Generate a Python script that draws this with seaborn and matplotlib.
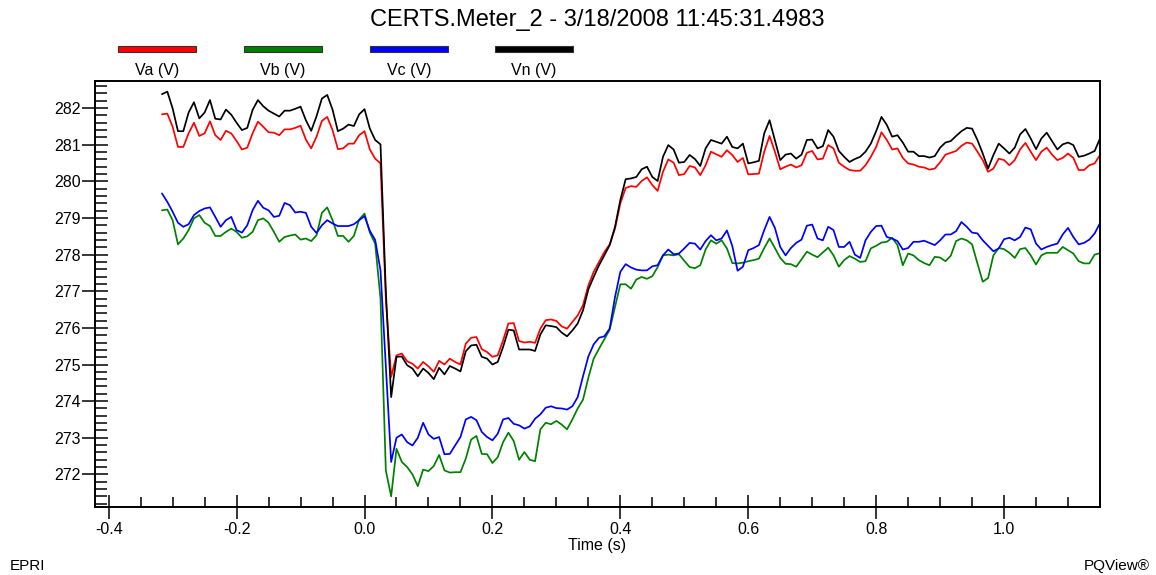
import numpy as np
import pandas as pd
import matplotlib
matplotlib.use("Agg")
import matplotlib.pyplot as plt
from matplotlib.patches import Rectangle
from matplotlib.ticker import MultipleLocator, FormatStrFormatter
import seaborn as sns

# ---------------- data ----------------
series_names = ["Va (V)", "Vb (V)", "Vc (V)", "Vn (V)"]
series_colors = ["#ff0000", "#008000", "#0000ff", "#000000"]

# half-cycle RMS samples, 1/120 s apart, sample 38 at t = 0
sample_start = -38
sample_rate = 120.0

va = [281.83, 281.85, 281.49, 280.94, 280.94, 281.31, 281.60, 281.24, 281.31, 281.64,
      281.26, 281.13, 281.38, 281.31, 281.10, 280.87, 280.92, 281.31, 281.63, 281.49,
      281.34, 281.33, 281.26, 281.42, 281.42, 281.46, 281.52, 281.14, 280.90, 281.22,
      281.65, 281.76, 281.40, 280.88, 280.90, 281.03, 281.03, 281.26, 281.37, 280.87,
      280.62, 280.49, 276.80, 274.66,
      275.25, 275.30, 275.09, 275.02, 274.89, 275.07, 274.95, 274.80, 275.10, 275.00,
      275.16, 275.07, 275.00, 275.57, 275.73, 275.75, 275.42, 275.34, 275.21, 275.25,
      275.66, 276.12, 276.13, 275.64, 275.60, 275.62, 275.59, 275.98, 276.21, 276.23,
      276.19, 276.04, 275.98, 276.16, 276.34,
      276.62, 277.16, 277.53, 277.80, 278.07, 278.28, 278.71, 279.40, 279.82, 279.87,
      279.85, 280.01, 280.11, 279.90, 279.74, 280.26, 280.60, 280.51, 280.17, 280.20,
      280.42, 280.38, 280.17, 280.44, 280.81, 280.74,
      280.67, 280.85, 280.72, 280.53, 280.64, 280.19, 280.20, 280.21, 280.81, 281.24,
      280.81, 280.33, 280.40, 280.46, 280.38, 280.44, 280.78, 280.83, 280.60, 280.62,
      280.99, 280.90, 280.51, 280.40, 280.31, 280.29, 280.29, 280.44, 280.67, 280.94,
      281.34, 281.13, 280.87, 280.90, 280.64,
      280.49, 280.46, 280.40, 280.38, 280.32, 280.35, 280.52, 280.73, 280.78, 280.83,
      280.97, 281.06, 281.03, 280.81, 280.58, 280.26, 280.35, 280.62, 280.58, 280.44,
      280.58, 280.87, 281.05, 280.81, 280.58, 280.81, 280.92, 280.73, 280.58, 280.64,
      280.76, 280.64, 280.31, 280.31, 280.44, 280.49, 280.72]

vb = [279.21, 279.23, 278.94, 278.28, 278.44, 278.67, 278.99, 279.08, 278.87, 278.78,
      278.51, 278.51, 278.62, 278.71, 278.62, 278.46, 278.50, 278.62, 278.94, 278.99,
      278.87, 278.62, 278.35, 278.48, 278.52, 278.55, 278.41, 278.44, 278.37, 278.53,
      279.14, 279.29, 278.94, 278.51, 278.51, 278.35, 278.51, 278.96, 279.12, 278.60,
      278.30, 276.80, 272.11, 271.40,
      272.70, 272.34, 272.20, 272.00, 271.68, 272.13, 272.09, 272.23, 272.53, 272.11,
      272.05, 272.06, 272.06, 272.43, 272.95, 273.05, 272.56, 272.55, 272.31, 272.47,
      272.88, 273.14, 272.91, 272.40, 272.61, 272.40, 272.36, 273.23, 273.41, 273.37,
      273.46, 273.36, 273.23, 273.50, 273.80,
      274.04, 274.64, 275.16, 275.43, 275.69, 275.95, 276.57, 277.19, 277.19, 277.07,
      277.32, 277.39, 277.34, 277.41, 277.66, 277.98, 278.00, 277.98, 278.01, 277.83,
      277.66, 277.63, 277.71, 278.14, 278.39, 278.30,
      278.39, 278.17, 277.77, 277.76, 277.78, 277.82, 277.85, 277.89, 278.18, 278.44,
      278.18, 277.91, 277.75, 277.74, 277.67, 277.87, 278.08, 278.00, 277.93, 278.06,
      278.19, 277.98, 277.67, 277.85, 277.96, 277.89, 277.80, 277.82, 278.17, 278.24,
      278.33, 278.35, 278.46, 278.26, 277.71,
      278.03, 277.98, 277.85, 277.77, 277.71, 277.94, 277.92, 277.82, 277.97, 278.37,
      278.44, 278.39, 278.28, 277.76, 277.26, 277.36, 277.98, 278.18, 278.15, 278.05,
      277.91, 278.15, 278.18, 277.98, 277.73, 277.98, 278.05, 278.05, 278.05, 278.21,
      278.12, 278.03, 277.82, 277.76, 277.76, 278.00, 278.04]

vc = [279.67, 279.44, 279.17, 278.87, 278.76, 278.83, 279.08, 279.19, 279.26, 279.29,
      279.03, 278.76, 278.94, 279.03, 278.67, 278.60, 278.80, 279.21, 279.47, 279.28,
      279.21, 279.03, 279.06, 279.41, 279.35, 279.15, 279.17, 279.14, 278.76, 278.59,
      278.80, 278.94, 278.85, 278.78, 278.78, 278.78, 278.83, 278.94, 279.05, 278.65,
      278.40, 277.57, 274.96, 272.34,
      273.00, 273.09, 272.88, 272.79, 273.00, 273.41, 273.09, 272.97, 273.02, 272.55,
      272.56, 272.79, 273.02, 273.50, 273.57, 273.48, 273.16, 273.02, 272.93, 273.11,
      273.50, 273.54, 273.38, 273.34, 273.25, 273.31, 273.52, 273.64, 273.82, 273.86,
      273.81, 273.80, 273.77, 273.86, 274.11,
      274.68, 275.22, 275.55, 275.73, 275.77, 275.98, 276.84, 277.53, 277.74, 277.65,
      277.59, 277.57, 277.57, 277.68, 277.71, 277.98, 278.14, 278.01, 278.03, 278.17,
      278.32, 278.30, 278.14, 278.37, 278.53, 278.39,
      278.44, 278.66, 278.24, 277.56, 277.67, 278.12, 278.18, 278.26, 278.67, 279.03,
      278.73, 278.21, 277.98, 278.18, 278.32, 278.41, 278.79, 278.82, 278.44, 278.39,
      278.76, 278.67, 278.21, 278.21, 278.35, 278.00, 277.91, 278.39, 278.62, 278.78,
      278.79, 278.48, 278.44, 278.37, 278.14,
      278.18, 278.35, 278.35, 278.38, 278.32, 278.26, 278.39, 278.55, 278.55, 278.64,
      278.89, 278.76, 278.60, 278.58, 278.39, 278.24, 278.09, 278.17, 278.42, 278.46,
      278.39, 278.48, 278.74, 278.69, 278.30, 278.14, 278.21, 278.26, 278.30, 278.55,
      278.73, 278.48, 278.28, 278.32, 278.41, 278.58, 278.86]

vn = [282.38, 282.45, 281.99, 281.37, 281.37, 281.88, 282.16, 281.72, 281.88, 282.22,
      281.71, 281.69, 281.96, 281.82, 281.60, 281.40, 281.46, 281.95, 282.22, 282.05,
      281.93, 281.85, 281.77, 281.93, 281.93, 281.98, 282.04, 281.67, 281.38, 281.78,
      282.26, 282.36, 281.96, 281.37, 281.44, 281.55, 281.51, 281.83, 281.97, 281.44,
      281.13, 281.01, 277.00, 274.11,
      275.21, 275.22, 274.98, 274.89, 274.68, 274.89, 274.77, 274.60, 274.91, 274.73,
      274.96, 274.89, 274.81, 275.36, 275.52, 275.54, 275.21, 275.16, 275.00, 275.07,
      275.48, 275.95, 275.93, 275.41, 275.41, 275.41, 275.37, 275.82, 276.07, 276.05,
      276.02, 275.87, 275.77, 275.93, 276.12,
      276.48, 277.05, 277.39, 277.71, 277.98, 278.26, 278.76, 279.49, 280.06, 280.08,
      280.12, 280.33, 280.40, 280.12, 280.01, 280.67, 280.99, 280.87, 280.51, 280.53,
      280.72, 280.61, 280.42, 280.90, 281.13, 281.08,
      281.03, 281.22, 280.94, 280.90, 281.03, 280.49, 280.52, 280.56, 281.31, 281.67,
      281.13, 280.58, 280.73, 280.76, 280.62, 280.73, 281.13, 281.14, 280.90, 280.96,
      281.40, 281.22, 280.83, 280.67, 280.53, 280.61, 280.67, 280.81, 281.03, 281.37,
      281.76, 281.54, 281.22, 281.26, 281.06,
      280.81, 280.81, 280.69, 280.69, 280.65, 280.69, 280.92, 281.06, 281.10, 281.24,
      281.37, 281.46, 281.44, 281.13, 280.76, 280.35, 280.72, 281.03, 280.90, 280.76,
      280.92, 281.28, 281.43, 281.17, 280.88, 281.17, 281.33, 281.10, 280.87, 281.01,
      281.06, 280.99, 280.67, 280.70, 280.76, 280.83, 281.17]

title_text = "CERTS.Meter_2 - 3/18/2008 11:45:31.4983"
x_label = "Time (s)"
left_footer = "EPRI"
right_footer = "PQView®"

# ---------------- build table ----------------
n = len(va)
t = (np.arange(n) + sample_start) / sample_rate
frames = []
for name, vals in zip(series_names, [va, vb, vc, vn]):
    frames.append(pd.DataFrame({"Time": t, "Value": vals, "Series": name}))
df = pd.concat(frames, ignore_index=True)

# ---------------- style ----------------
sns.set_theme(style="white")
plt.rcParams["font.family"] = ["Liberation Sans", "DejaVu Sans"]
plt.rcParams["axes.edgecolor"] = "black"

W, H = 1156, 575
fig = plt.figure(figsize=(W / 100, H / 100), dpi=100)
ax = fig.add_axes([95 / W, 1 - 507 / H, (1100 - 95) / W, (507 - 81) / H])

sns.lineplot(data=df, x="Time", y="Value", hue="Series", hue_order=series_names,
             palette=series_colors, estimator=None, sort=False, legend=False,
             linewidth=1.25, ax=ax)

ax.set_xlim(-0.4214, 1.15)
ax.set_ylim(271.11, 282.74)

ax.xaxis.set_major_locator(MultipleLocator(0.2))
ax.xaxis.set_minor_locator(MultipleLocator(0.05))
ax.yaxis.set_major_locator(MultipleLocator(1))
ax.yaxis.set_minor_locator(MultipleLocator(0.2))
ax.xaxis.set_major_formatter(FormatStrFormatter("%.1f"))
ax.yaxis.set_major_formatter(FormatStrFormatter("%d"))

ax.tick_params(axis="x", which="major", direction="inout", length=17, width=1.1,
               color="black", labelsize=11.5, pad=2, labelcolor="black")
ax.tick_params(axis="x", which="minor", direction="in", length=7, width=1.1, color="black")
ax.tick_params(axis="y", which="major", direction="inout", length=19, width=1.1,
               color="black", labelsize=11.5, pad=1, labelcolor="black")
ax.tick_params(axis="y", which="minor", direction="in", length=8.5, width=1.1, color="black")
ax.tick_params(bottom=True, left=True, top=False, right=False)
ax.tick_params(which="minor", bottom=True, left=True, top=False, right=False)

for side, sp in ax.spines.items():
    sp.set_visible(True)
    sp.set_color("black")
    sp.set_linewidth(1.4)

ax.set_xlabel(x_label, fontsize=11.5, labelpad=1, color="black")
ax.set_ylabel("")
ax.grid(False)

# title
fig.text(597 / W, 1 - 20 / H, title_text, ha="center", va="center",
         fontsize=17, color="black")

# legend: coloured bars with labels underneath
bar_left = [118, 244, 370, 495]
bar_w = 78
bar_h = 6.5
bar_y = 49
for bx, name, col in zip(bar_left, series_names, series_colors):
    fig.add_artist(Rectangle((bx / W, 1 - (bar_y + bar_h / 2) / H), bar_w / W, bar_h / H,
                             transform=fig.transFigure, facecolor=col,
                             edgecolor="#333333", linewidth=0.8))
    fig.text((bx + bar_w / 2) / W, 1 - 70 / H, name, ha="center", va="center",
             fontsize=11.5, color="black")

# footers
fig.text(10 / W, 1 - 566 / H, left_footer, ha="left", va="center", fontsize=11, color="black")
fig.text(1150 / W, 1 - 566 / H, right_footer, ha="right", va="center", fontsize=11, color="black")

fig.savefig("out.png", dpi=100, facecolor="white")
